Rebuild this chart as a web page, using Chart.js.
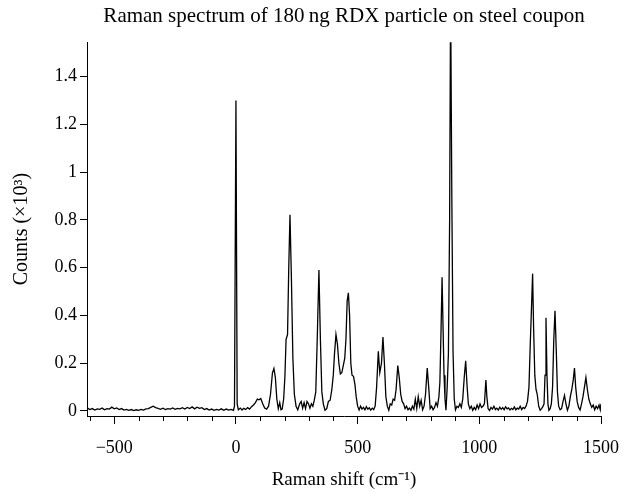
<!DOCTYPE html>
<html>
<head>
<meta charset="utf-8">
<script src="https://cdn.jsdelivr.net/npm/chart.js@4.4.0/dist/chart.umd.min.js"></script>
<style>
  html, body { margin: 0; padding: 0; background: #fff; }
  #wrap { width: 624px; height: 493px; }
</style>
</head>
<body>
<div id="wrap"><canvas id="raman"></canvas></div>
<script>
// Raman shift (cm-1) and counts (x10^3)
const shift = [
  -610, -600, -590, -580, -570, -560, -550, -540, -530, -520, -510, -500, -490, -480, -470, -460,
  -450, -440, -430, -420, -410, -400, -390, -380, -370, -360, -350, -340, -330, -320, -310, -300,
  -290, -280, -270, -260, -250, -240, -230, -220, -210, -200, -190, -180, -170, -160, -150, -140,
  -130, -120, -110, -100, -90, -80, -70, -60, -50, -40, -30, -20, -10, -6, 0, 5,
  10, 18, 25, 32, 40, 48, 56, 64, 72, 80, 88, 95, 102, 110, 118, 126,
  134, 142, 150, 156, 162, 168, 174, 180, 185, 190, 196, 201, 206, 212, 217, 222,
  228, 234, 240, 247, 254, 262, 268, 274, 280, 286, 292, 298, 304, 310, 316, 322,
  328, 334, 341, 347, 353, 359, 366, 373, 380, 387, 394, 400, 405, 411, 417, 423,
  429, 435, 441, 447, 452, 457, 462, 467, 472, 477, 483, 489, 494, 500, 506, 512,
  518, 524, 530, 536, 542, 548, 554, 560, 566, 572, 578, 585, 591, 598, 604, 610,
  616, 622, 628, 634, 640, 646, 652, 658, 665, 671, 677, 683, 689, 695, 701, 707,
  713, 719, 725, 731, 737, 743, 749, 755, 761, 767, 773, 779, 786, 792, 798, 804,
  810, 816, 822, 828, 834, 838, 843, 847, 851, 855, 859, 863, 868, 873, 878, 882,
  887, 892, 897, 902, 908, 914, 920, 926, 932, 938, 944, 950, 955, 961, 967, 973,
  979, 985, 991, 997, 1003, 1009, 1015, 1021, 1027, 1031, 1036, 1042, 1048, 1054, 1060, 1066,
  1072, 1078, 1084, 1090, 1096, 1102, 1108, 1114, 1120, 1126, 1132, 1138, 1144, 1150, 1156, 1162,
  1168, 1174, 1180, 1186, 1192, 1198, 1204, 1210, 1215, 1219, 1223, 1228, 1233, 1238, 1244, 1250,
  1256, 1262, 1266, 1270, 1274, 1278, 1282, 1286, 1291, 1296, 1301, 1306, 1311, 1316, 1321, 1326,
  1332, 1338, 1344, 1350, 1356, 1362, 1368, 1374, 1380, 1386, 1391, 1396, 1402, 1408, 1414, 1420,
  1426, 1432, 1438, 1444, 1450, 1456, 1462, 1468, 1474, 1480, 1486, 1492, 1497, 1500
];
const counts = [
  0.012, 0.006, 0.010, 0.004, 0.009, 0.007, 0.012, 0.005, 0.010, 0.008, 0.016, 0.009, 0.013, 0.006, 0.010, 0.004,
  0.007, 0.003, 0.006, 0.002, 0.005, 0.003, 0.007, 0.004, 0.009, 0.010, 0.015, 0.020, 0.014, 0.011, 0.007, 0.012,
  0.006, 0.010, 0.008, 0.013, 0.007, 0.011, 0.009, 0.014, 0.008, 0.015, 0.010, 0.017, 0.009, 0.016, 0.011, 0.014,
  0.006, 0.010, 0.004, 0.008, 0.003, 0.007, 0.004, 0.009, 0.003, 0.008, 0.004, 0.007, 0.003, 0.020, 1.300, 0.030,
  0.005, 0.012, 0.004, 0.011, 0.006, 0.014, 0.008, 0.018, 0.025, 0.035, 0.050, 0.047, 0.052, 0.030, 0.012, 0.008,
  0.020, 0.070, 0.160, 0.178, 0.140, 0.050, 0.010, 0.035, 0.005, 0.008, 0.050, 0.140, 0.300, 0.320, 0.600, 0.822,
  0.550, 0.220, 0.070, 0.020, 0.005, 0.030, 0.040, 0.012, 0.035, 0.010, 0.040, 0.030, 0.012, 0.030, 0.020, 0.045,
  0.080, 0.300, 0.590, 0.300, 0.080, 0.030, 0.003, 0.010, 0.040, 0.045, 0.090, 0.150, 0.240, 0.320, 0.280, 0.200,
  0.155, 0.160, 0.190, 0.220, 0.300, 0.460, 0.495, 0.400, 0.200, 0.150, 0.145, 0.110, 0.060, 0.020, 0.004, 0.020,
  0.008, 0.015, 0.005, 0.018, 0.007, 0.013, 0.004, 0.012, 0.006, 0.020, 0.100, 0.250, 0.160, 0.200, 0.310, 0.200,
  0.060, 0.020, 0.003, 0.030, 0.025, 0.050, 0.045, 0.090, 0.190, 0.140, 0.070, 0.040, 0.030, 0.010, 0.020, 0.005,
  0.012, 0.003, 0.020, 0.008, 0.050, 0.010, 0.060, 0.020, 0.045, 0.005, 0.020, 0.070, 0.180, 0.100, 0.010, 0.020,
  0.005, 0.015, 0.035, 0.020, 0.060, 0.120, 0.350, 0.560, 0.350, 0.150, 0.050, 0.003, 0.100, 0.240, 0.800, 1.750,
  0.900, 0.250, 0.050, 0.005, 0.020, 0.015, 0.030, 0.015, 0.050, 0.140, 0.210, 0.100, 0.030, 0.010, 0.020, 0.003,
  0.015, 0.005, 0.025, 0.010, 0.030, 0.015, 0.020, 0.030, 0.130, 0.060, 0.010, 0.002, 0.015, 0.008, 0.020, 0.006,
  0.012, 0.004, 0.016, 0.007, 0.014, 0.005, 0.018, 0.009, 0.013, 0.004, 0.011, 0.006, 0.017, 0.005, 0.012, 0.008,
  0.020, 0.006, 0.015, 0.010, 0.020, 0.040, 0.100, 0.300, 0.450, 0.575, 0.350, 0.150, 0.090, 0.070, 0.020, 0.003,
  0.010, 0.020, 0.030, 0.150, 0.390, 0.150, 0.030, 0.003, 0.010, 0.030, 0.100, 0.300, 0.420, 0.260, 0.080, 0.020,
  0.005, 0.010, 0.040, 0.065, 0.030, 0.003, 0.020, 0.060, 0.090, 0.130, 0.180, 0.100, 0.040, 0.015, 0.004, 0.030,
  0.060, 0.100, 0.140, 0.090, 0.050, 0.030, 0.015, 0.025, 0.005, 0.020, 0.010, 0.025, 0.005, 0.030
];

// axis ticks
const xMajorTicks = [-500, 0, 500, 1000, 1500];
const xMinorTicks = [-600, -400, -300, -200, -100, 100, 200, 300, 400, 600, 700, 800, 900, 1100, 1200, 1300, 1400];
const yTicks = [0, 0.2, 0.4, 0.6, 0.8, 1, 1.2, 1.4];

const serif = 'Liberation Serif';

// short ticks for the hundreds on the x axis
const minorTickPlugin = {
  id: 'minorTicks',
  afterDraw(chart) {
    const sx = chart.scales.x;
    const ctx = chart.ctx;
    ctx.save();
    ctx.strokeStyle = '#000';
    ctx.lineWidth = 1;
    xMinorTicks.forEach(function(v) {
      const px = Math.round(sx.getPixelForValue(v)) + 0.5;
      ctx.beginPath();
      ctx.moveTo(px, sx.top);
      ctx.lineTo(px, sx.top + 5);
      ctx.stroke();
    });
    ctx.restore();
  }
};

const ctx = document.getElementById('raman').getContext('2d');
new Chart(ctx, {
  type: 'line',
  data: {
    datasets: [{
      data: shift.map((x, i) => ({ x: x, y: counts[i] })),
      borderColor: '#000',
      borderWidth: 1.3,
      pointRadius: 0,
      tension: 0,
      fill: false
    }]
  },
  options: {
    responsive: true,
    maintainAspectRatio: false,
    animation: false,
    layout: { padding: { left: 0, right: 23, top: 0, bottom: 0 } },
    plugins: {
      legend: { display: false },
      tooltip: { enabled: false },
      title: {
        display: true,
        text: 'Raman spectrum of 180\u2009ng RDX particle on steel coupon',
        color: '#000',
        fullSize: false,
        font: { family: serif, size: 21, weight: 'normal' },
        padding: { top: 4, bottom: 13 }
      }
    },
    scales: {
      x: {
        type: 'linear',
        min: -612,
        max: 1500,
        afterBuildTicks: function(scale) {
          scale.ticks = xMajorTicks.map(v => ({ value: v }));
        },
        afterFit: function(scale) {
          scale.height = 77;
          scale.paddingLeft = 0;
          scale.paddingRight = 0;
        },
        border: { display: true, color: '#000', width: 1 },
        grid: { drawOnChartArea: false, drawTicks: true, tickLength: 8, color: '#000' },
        ticks: {
          color: '#000',
          padding: 13,
          maxRotation: 0,
          font: { family: serif, size: 18 },
          callback: function(v) { return String(v).replace('-', '\u2212'); }
        },
        title: {
          display: true,
          text: 'Raman shift (cm\u207B\u00B9)',
          color: '#000',
          font: { family: serif, size: 19 },
          padding: { top: 0, bottom: 2 }
        }
      },
      y: {
        type: 'linear',
        min: -0.021,
        max: 1.544,
        afterBuildTicks: function(scale) {
          scale.ticks = yTicks.map(v => ({ value: v }));
        },
        afterFit: function(scale) { scale.width = 87; },
        border: { display: true, color: '#000', width: 1 },
        grid: { drawOnChartArea: false, drawTicks: true, tickLength: 7, color: '#000' },
        ticks: {
          color: '#000',
          padding: 3,
          font: { family: serif, size: 18 },
          callback: function(v) { return String(Math.round(v * 10) / 10); }
        },
        title: {
          display: true,
          text: 'Counts (\u00D710\u00B3)',
          color: '#000',
          font: { family: serif, size: 20 },
          padding: { top: 10, bottom: 0 }
        }
      }
    }
  },
  plugins: [minorTickPlugin]
});
</script>
</body>
</html>
